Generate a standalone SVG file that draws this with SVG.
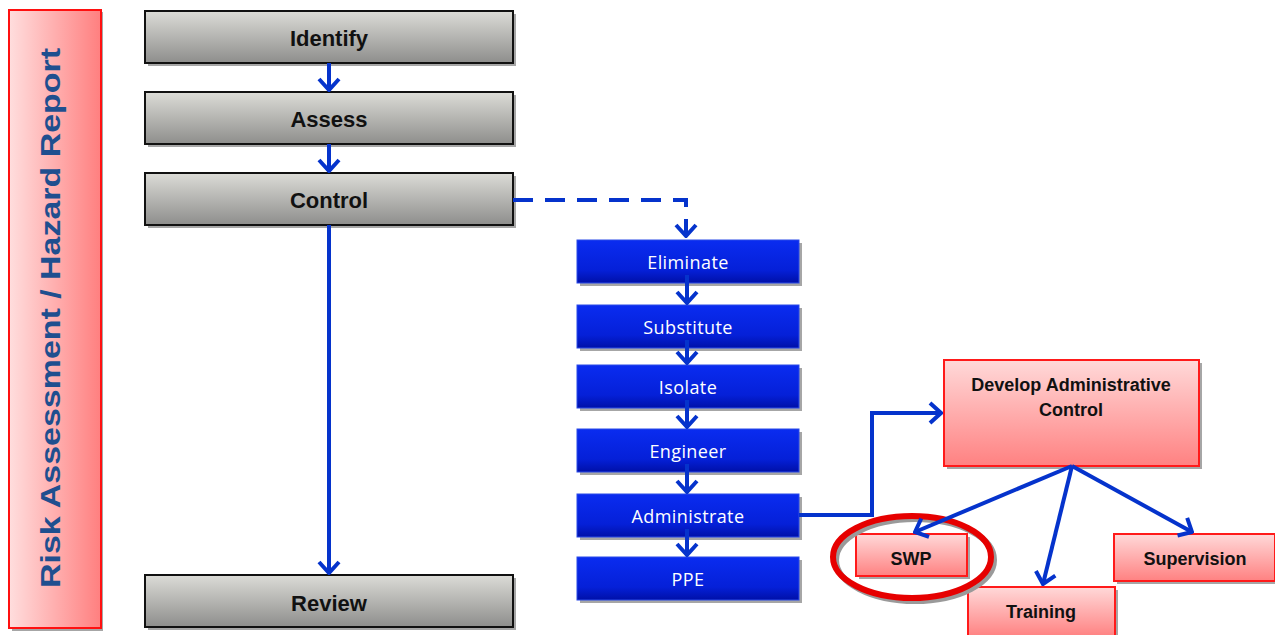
<svg xmlns="http://www.w3.org/2000/svg" width="1275" height="635" viewBox="0 0 1275 635">
<defs>
<linearGradient id="gGray" x1="0" y1="0" x2="0" y2="1"><stop offset="0" stop-color="#dcdcd7"/><stop offset="1" stop-color="#8e8e8c"/></linearGradient>
<linearGradient id="gBlue" x1="0" y1="0" x2="0" y2="1"><stop offset="0" stop-color="#0a2cf0"/><stop offset="0.7" stop-color="#0520d8"/><stop offset="1" stop-color="#0010a8"/></linearGradient>
<linearGradient id="gPink" x1="0" y1="0" x2="0" y2="1"><stop offset="0" stop-color="#ffd9d9"/><stop offset="1" stop-color="#ff8181"/></linearGradient>
<linearGradient id="gSide" x1="0" y1="0" x2="1" y2="0"><stop offset="0" stop-color="#ffdede"/><stop offset="1" stop-color="#ff7f7f"/></linearGradient>
<marker id="chev" markerUnits="userSpaceOnUse" viewBox="-14 -12 16 24" refX="0" refY="0" markerWidth="16" markerHeight="24" orient="auto">
<path d="M-11,-10 L0,0 L-11,10" fill="none" stroke="#0533cc" stroke-width="4" stroke-linejoin="miter"/>
</marker>
<style>
.shadow{fill:#a6a6a6}
.gray{fill:url(#gGray);stroke:#111;stroke-width:2}
.blue{fill:url(#gBlue);stroke:#2a4ae8;stroke-width:1}
.pink{fill:url(#gPink);stroke:#ff1a1a;stroke-width:2}
.tg{font-family:"Liberation Sans",Arial,sans-serif;font-weight:bold;font-size:22px;fill:#111;text-anchor:middle}
.tb{font-family:"Open Sans","Liberation Sans",sans-serif;font-size:18px;letter-spacing:0.4px;fill:#fff;text-anchor:middle}
.tp{font-family:"Liberation Sans",Arial,sans-serif;font-weight:bold;font-size:18px;fill:#111;text-anchor:middle}
.con{fill:none;stroke:#0533cc;stroke-width:4}
</style>
</defs>
<rect width="1275" height="635" fill="#fff"/>

<g id="side">
<rect x="12" y="12" width="91" height="619" class="shadow"/>
<rect x="9" y="10" width="92" height="618" fill="url(#gSide)" stroke="#ff1010" stroke-width="2"/>
<text x="0" y="0" transform="translate(60,318) rotate(-90)" font-family="'Liberation Sans',Arial,sans-serif" font-weight="bold" font-size="28" fill="#1f4f8f" text-anchor="middle" textLength="540" lengthAdjust="spacingAndGlyphs">Risk Assessment / Hazard Report</text>
</g>

<g id="identify">
<rect x="148" y="14" width="368" height="52" class="shadow"/>
<rect x="145" y="11" width="368" height="52" class="gray"/>
<text x="329" y="46" class="tg">Identify</text>
</g>
<g id="assess">
<rect x="148" y="95" width="368" height="52" class="shadow"/>
<rect x="145" y="92" width="368" height="52" class="gray"/>
<text x="329" y="127" class="tg">Assess</text>
</g>
<g id="control">
<rect x="148" y="176" width="368" height="52" class="shadow"/>
<rect x="145" y="173" width="368" height="52" class="gray"/>
<text x="329" y="208" class="tg">Control</text>
</g>
<g id="review">
<rect x="148" y="578" width="368" height="52" class="shadow"/>
<rect x="145" y="575" width="368" height="52" class="gray"/>
<text x="329" y="611" class="tg">Review</text>
</g>

<g id="eliminate">
<rect x="580" y="243" width="222" height="43" class="shadow"/>
<rect x="577" y="240" width="222" height="43" class="blue"/>
<text x="688" y="269" class="tb">Eliminate</text>
</g>
<g id="substitute">
<rect x="580" y="308" width="222" height="43" class="shadow"/>
<rect x="577" y="305" width="222" height="43" class="blue"/>
<text x="688" y="334" class="tb">Substitute</text>
</g>
<g id="isolate">
<rect x="580" y="368" width="222" height="43" class="shadow"/>
<rect x="577" y="365" width="222" height="43" class="blue"/>
<text x="688" y="394" class="tb">Isolate</text>
</g>
<g id="engineer">
<rect x="580" y="432" width="222" height="43" class="shadow"/>
<rect x="577" y="429" width="222" height="43" class="blue"/>
<text x="688" y="458" class="tb">Engineer</text>
</g>
<g id="administrate">
<rect x="580" y="497" width="222" height="43" class="shadow"/>
<rect x="577" y="494" width="222" height="43" class="blue"/>
<text x="688" y="523" class="tb">Administrate</text>
</g>
<g id="ppe">
<rect x="580" y="560" width="222" height="43" class="shadow"/>
<rect x="577" y="557" width="222" height="43" class="blue"/>
<text x="688" y="586" class="tb">PPE</text>
</g>

<g id="develop">
<rect x="947" y="363" width="255" height="106" class="shadow"/>
<rect x="944" y="360" width="255" height="106" class="pink"/>
<text x="1071" y="391" class="tp">Develop Administrative</text>
<text x="1071" y="416" class="tp">Control</text>
</g>
<g id="swp">
<rect x="859" y="537" width="111" height="42" class="shadow"/>
<rect x="856" y="534" width="111" height="42" class="pink"/>
<text x="911" y="565" class="tp">SWP</text>
</g>
<g id="training">
<rect x="971" y="590" width="147" height="50" class="shadow"/>
<rect x="968" y="587" width="147" height="50" class="pink"/>
<text x="1041" y="618" class="tp">Training</text>
</g>
<g id="supervision">
<rect x="1117" y="537" width="161" height="47" class="shadow"/>
<rect x="1114" y="534" width="161" height="47" class="pink"/>
<text x="1195" y="565" class="tp">Supervision</text>
</g>

<g id="highlight">
<ellipse cx="915" cy="560" rx="79" ry="41" fill="none" stroke="#9a9a9a" stroke-width="6"/>
<ellipse cx="912" cy="557" rx="79" ry="41" fill="none" stroke="#e60000" stroke-width="6"/>
</g>

<g id="connectors">
<line x1="329" y1="63" x2="329" y2="90" class="con" marker-end="url(#chev)"/>
<line x1="329" y1="144" x2="329" y2="171" class="con" marker-end="url(#chev)"/>
<line x1="329" y1="225" x2="329" y2="573" class="con" marker-end="url(#chev)"/>
<path d="M513,200 H686 V236" class="con" stroke-width="5" stroke-dasharray="20 12" marker-end="url(#chev)"/>
<line x1="687" y1="275" x2="687" y2="303" class="con" marker-end="url(#chev)"/>
<line x1="687" y1="340" x2="687" y2="363" class="con" marker-end="url(#chev)"/>
<line x1="687" y1="400" x2="687" y2="427" class="con" marker-end="url(#chev)"/>
<line x1="687" y1="464" x2="687" y2="492" class="con" marker-end="url(#chev)"/>
<line x1="687" y1="529" x2="687" y2="555" class="con" marker-end="url(#chev)"/>
<path d="M799,515 H872 V413 H941" class="con" marker-end="url(#chev)"/>
<line x1="1072" y1="466" x2="915" y2="532" class="con" marker-end="url(#chev)"/>
<line x1="1072" y1="466" x2="1043" y2="584" class="con" marker-end="url(#chev)"/>
<line x1="1072" y1="466" x2="1192" y2="532" class="con" marker-end="url(#chev)"/>
</g>
</svg>
